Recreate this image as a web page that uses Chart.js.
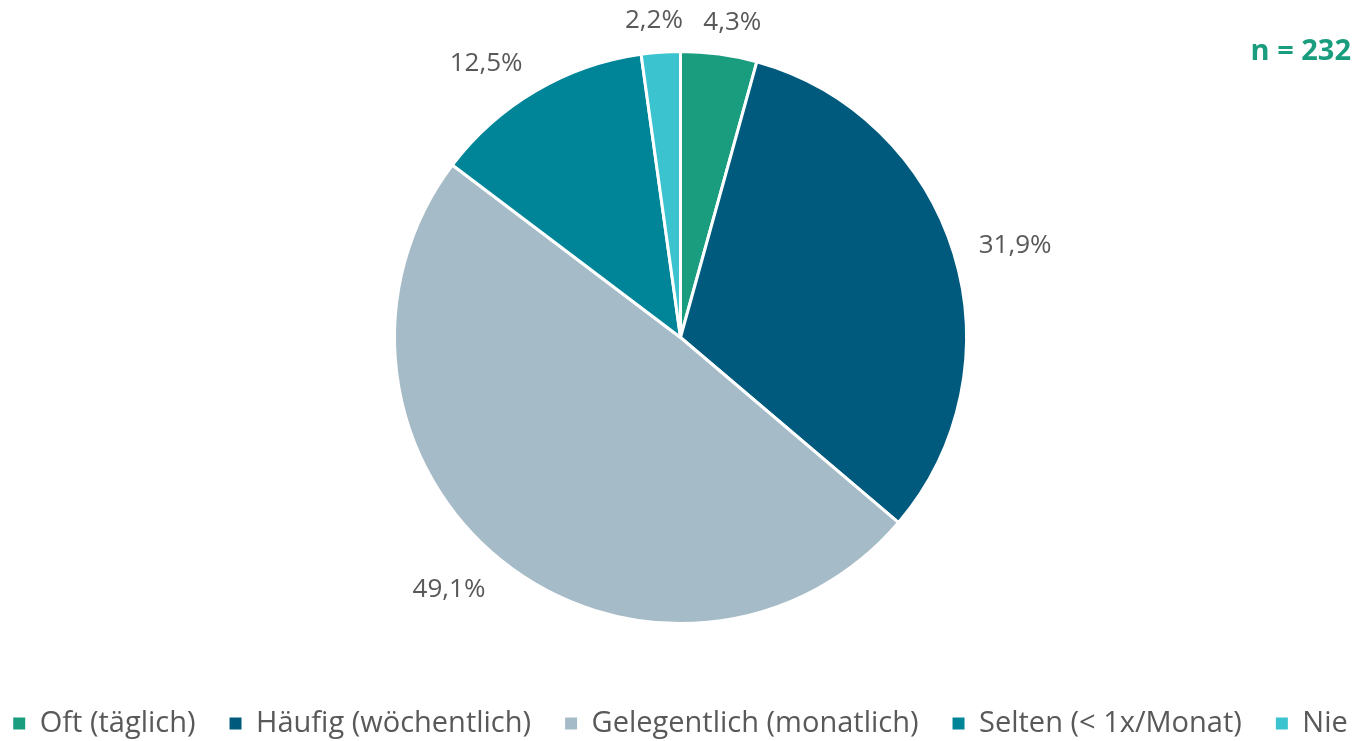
<!DOCTYPE html>
<html><head><meta charset="utf-8">
<script src="https://cdn.jsdelivr.net/npm/chart.js@4"></script>
<style>html,body{margin:0;padding:0;background:#fff;overflow:hidden}</style>
</head><body>
<canvas id="c" width="1361" height="741" style="display:block;width:1361px;height:741px"></canvas>
<script>
// ---- data ----
const categories = ['Oft (täglich)', 'Häufig (wöchentlich)', 'Gelegentlich (monatlich)', 'Selten (< 1x/Monat)', 'Nie'];
const shares = [4.3, 31.9, 49.1, 12.5, 2.2];
const sliceColors = ['#1a9c7e', '#005a7d', '#a6bbc8', '#008598', '#3bc3cf'];
const sampleNote = 'n = 232';

const FONT = '"Open Sans", "Noto Sans", sans-serif';
const TEXT_GREY = '#595959';

const outsideLabels = {
  id: 'outsideLabels',
  afterDatasetsDraw(chart) {
    const ctx = chart.ctx;
    const meta = chart.getDatasetMeta(0);
    ctx.save();
    ctx.font = '26px ' + FONT;
    ctx.fillStyle = TEXT_GREY;
    ctx.textAlign = 'center';
    ctx.textBaseline = 'middle';
    meta.data.forEach((arc, i) => {
      const p = arc.getProps(['x', 'y', 'startAngle', 'endAngle', 'outerRadius'], true);
      const mid = (p.startAngle + p.endAngle) / 2;
      const cos = Math.cos(mid), sin = Math.sin(mid);
      const txt = shares[i].toFixed(1).replace('.', ',') + '%';
      const w = ctx.measureText(txt).width;
      const h = 16;
      const d = p.outerRadius + 26;
      const cl = v => Math.max(-1, Math.min(1, v));
      const x = p.x + d * cos + (w / 2) * cl(cos * 2.5);
      const y = p.y + d * sin + (h / 2) * sin + 2;
      ctx.fillText(txt, x, y);
    });
    ctx.restore();
  }
};

const noteLabel = {
  id: 'noteLabel',
  afterDraw(chart) {
    const ctx = chart.ctx;
    ctx.save();
    ctx.font = 'bold 29px ' + FONT;
    ctx.fillStyle = '#1a9c7e';
    ctx.textAlign = 'right';
    ctx.textBaseline = 'middle';
    ctx.fillText(sampleNote, 1351, 52);
    ctx.restore();
  }
};

new Chart(document.getElementById('c'), {
  type: 'pie',
  data: {
    labels: categories,
    datasets: [{
      data: shares,
      backgroundColor: sliceColors,
      borderColor: '#ffffff',
      borderWidth: 3,
      radius: 286
    }]
  },
  options: {
    responsive: false,
    animation: false,
    devicePixelRatio: 1,
    layout: { padding: { top: -0.5, bottom: -7, left: -40, right: -40 } },
    plugins: {
      tooltip: { enabled: false },
      legend: {
        display: true,
        position: 'bottom',
        labels: {
          font: { family: FONT, size: 29 },
          color: TEXT_GREY,
          boxWidth: 12,
          boxHeight: 12,
          padding: 34,
          generateLabels(chart) {
            const items = Chart.overrides.pie.plugins.legend.labels.generateLabels(chart);
            items.forEach(it => { it.lineWidth = 0; it.strokeStyle = it.fillStyle; });
            return items;
          }
        }
      }
    }
  },
  plugins: [outsideLabels, noteLabel]
});
</script>
</body></html>
